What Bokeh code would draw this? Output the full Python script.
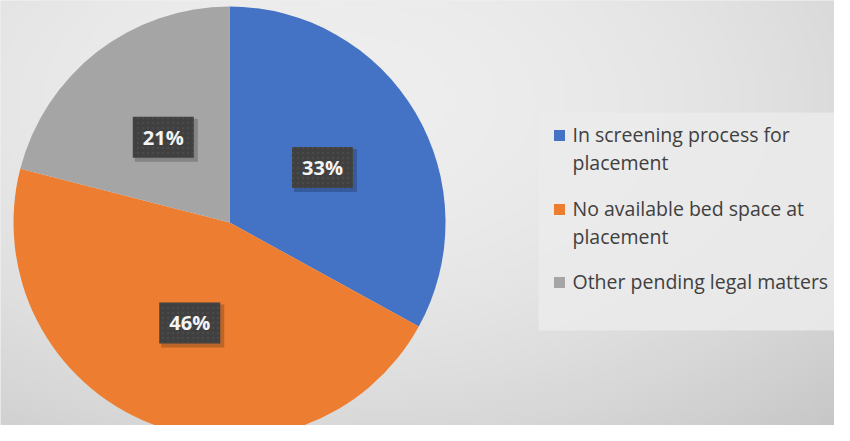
import numpy as np
from bokeh.plotting import figure
from bokeh.models import Range1d, ColumnDataSource
from bokeh.core.properties import value
from bokeh.embed import file_html
from bokeh.resources import INLINE

# ---- data ----
categories = ["In screening process for placement",
              "No available bed space at placement",
              "Other pending legal matters"]
legend_lines = [["In screening process for", "placement"],
                ["No available bed space at", "placement"],
                ["Other pending legal matters"]]
shares = [33, 46, 21]
colors = ["#4472C4", "#ED7D31", "#A5A5A5"]

W, H = 834, 425
# data coords: x = picture x, y = 441 - picture y
p = figure(width=W, height=H, x_range=Range1d(0, 834), y_range=Range1d(16, 441),
           output_backend="svg", toolbar_location=None, min_border=0)
p.axis.visible = False
p.grid.visible = False
p.outline_line_color = None
p.background_fill_color = "#e0e0e0"
p.border_fill_color = "#e0e0e0"

# background radial gradient (style only)
nx, ny = 210, 110
xs = np.linspace(0, 834, nx)
ys = np.linspace(16, 441, ny)
X, Y = np.meshgrid(xs, ys)
d2 = ((X - 330) / 700) ** 2 + ((Y - (441 - 100)) / 420) ** 2
g = np.clip(238 - 35 * d2, 190, 240).astype(np.uint32)
img = np.zeros((ny, nx), dtype=np.uint32)
view = img.view(dtype=np.uint8).reshape((ny, nx, 4))
view[:, :, 0] = g
view[:, :, 1] = g
view[:, :, 2] = g
view[:, :, 3] = 255
p.image_rgba(image=[img], x=0, y=16, dw=834, dh=425)

# pie
cx, cy, R = 229, 441 - 222, 216
vals = np.array(shares, dtype=float)
frac = vals / vals.sum()
ends = np.cumsum(frac) * 2 * np.pi
starts = ends - frac * 2 * np.pi
src = ColumnDataSource(dict(start=np.pi / 2 - starts, end=np.pi / 2 - ends, color=colors))
p.wedge(x=cx, y=cy, radius=R, start_angle="start", end_angle="end", direction="clock",
        fill_color="color", line_color=None, source=src)

# data labels
mids = (starts + ends) / 2
lx = cx + 0.5 * R * np.sin(mids)
ly = cy + 0.5 * R * np.cos(mids)
labels = [f"{v}%" for v in shares]
p.rect(x=lx + 3, y=ly - 3, width=63, height=43, fill_color="black", fill_alpha=0.2, line_color=None)
p.rect(x=lx, y=ly, width=61, height=41, fill_color="#404040", line_color=None,
       hatch_pattern="dot", hatch_color="#565656", hatch_scale=5, hatch_alpha=0.45)
p.text(x=lx, y=ly, text=labels, text_color="#f4f4f4", text_font=value("Open Sans"),
       text_font_style="bold", text_font_size="20px", text_align="center", text_baseline="middle")

# legend
p.rect(x=694, y=441 - 221, width=312, height=218, fill_color="#ebebeb", fill_alpha=0.85, line_color=None)
marker_sy = [135, 209, 282]
for i, lines in enumerate(legend_lines):
    sy = marker_sy[i]
    p.rect(x=559, y=441 - sy, width=11, height=11, fill_color=colors[i], line_color=None)
    for j, t in enumerate(lines):
        p.text(x=[572], y=[441 - (sy - 1) - 28 * j], text=[t], text_color="#404040",
               text_font=value("Open Sans"), text_font_size="19.5px",
               text_align="left", text_baseline="middle")

open("out.html", "w").write(file_html(p, INLINE))
